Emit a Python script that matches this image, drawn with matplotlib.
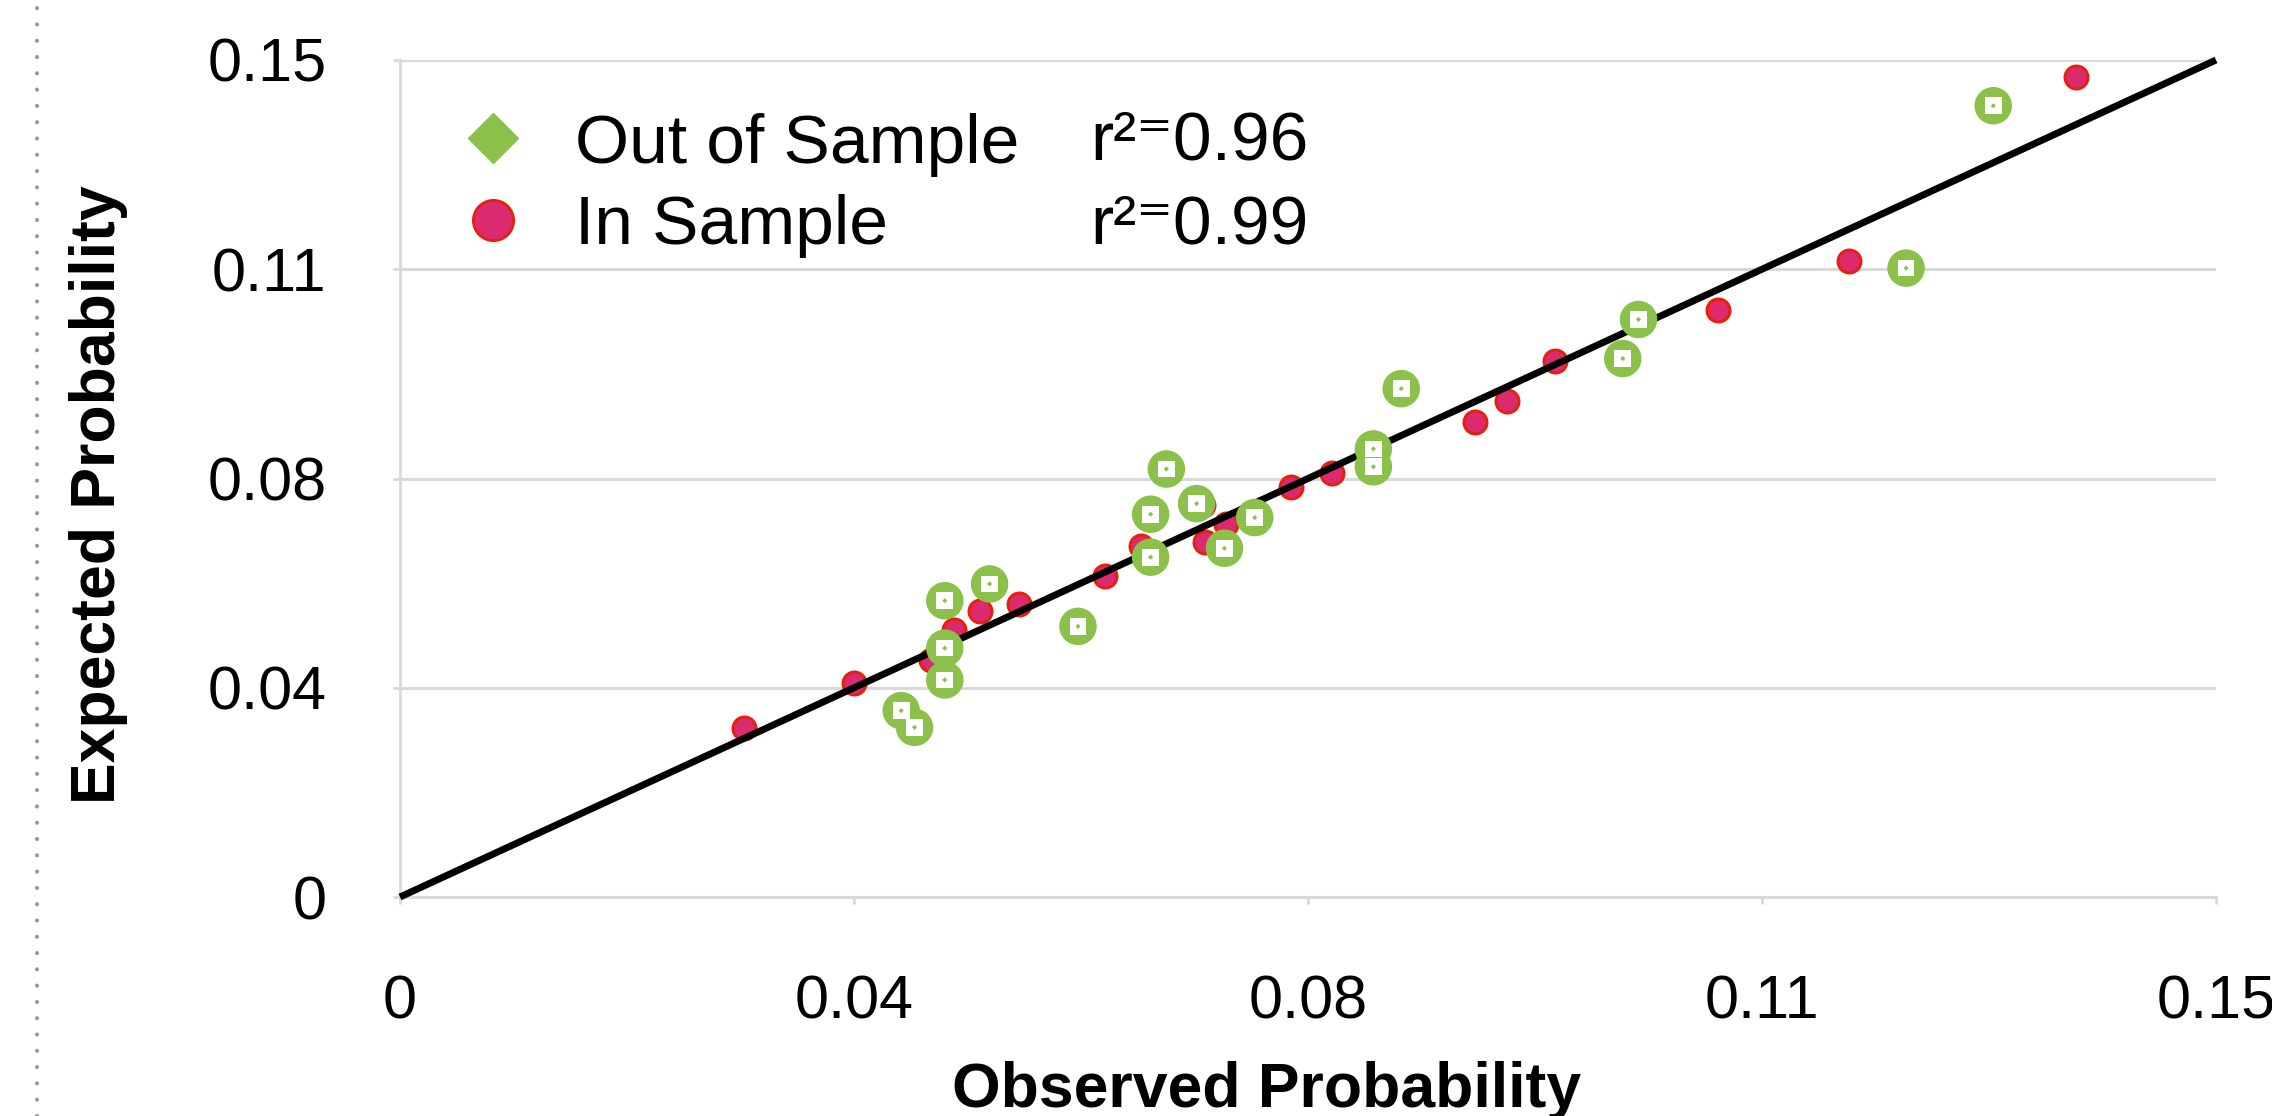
import matplotlib
matplotlib.use("Agg")
import matplotlib.pyplot as plt
from matplotlib.lines import Line2D

plt.rcParams['font.family'] = ['Liberation Sans', 'DejaVu Sans']

# ---------------- data ----------------
out_obs = [0.1316, 0.1244, 0.1023, 0.1010, 0.0827, 0.0633, 0.0620, 0.0658, 0.0706, 0.0681,
           0.0620, 0.0487, 0.0450, 0.0450, 0.0450, 0.0414, 0.0425, 0.0560, 0.0804, 0.0804]
out_exp = [0.1418, 0.1127, 0.1035, 0.0965, 0.0911, 0.0767, 0.0686, 0.0705, 0.0680, 0.0625,
           0.0609, 0.0561, 0.0531, 0.0446, 0.0389, 0.0334, 0.0304, 0.0485, 0.0803, 0.0771]

in_obs = [0.0284, 0.0375, 0.0439, 0.0458, 0.0479, 0.0511, 0.0582, 0.0612, 0.0665, 0.0663,
          0.0682, 0.0736, 0.0770, 0.0803, 0.0888, 0.0914, 0.0954, 0.1089, 0.1197, 0.1384]
in_exp = [0.0303, 0.0383, 0.0425, 0.0479, 0.0513, 0.0525, 0.0576, 0.0629, 0.0637, 0.0703,
          0.0669, 0.0734, 0.0760, 0.0807, 0.0852, 0.0889, 0.0961, 0.1052, 0.1140, 0.1470]

tick_vals = [0, 0.0375, 0.075, 0.1125, 0.15]
tick_labels = ["0", "0.04", "0.08", "0.11", "0.15"]
series_labels = ["Out of Sample", "In Sample"]
r2_labels = ["r\u00b2\u207c0.96", "r\u00b2\u207c0.99"]
x_title = "Observed Probability"
y_title = "Expected Probability"

GREEN = "#8BC04B"
PINK = "#DC2A6E"
REDEDGE = "#E5200F"
GRID = "#D9D9D9"

W, H = 2272, 1116
fig = plt.figure(figsize=(W / 100, H / 100), dpi=100)
fig.patch.set_facecolor("white")
ax = fig.add_axes([400 / W, 1 - 897 / H, (2216 - 400) / W, (897 - 60) / H])

ax.set_xlim(tick_vals[0], tick_vals[-1])
ax.set_ylim(tick_vals[0], tick_vals[-1])
ax.set_xticks(tick_vals)
ax.set_xticklabels(tick_labels)
ax.set_yticks(tick_vals)
ax.set_yticklabels(tick_labels)

ax.grid(axis="y", color=GRID, linewidth=2.2, zorder=0)
ax.set_axisbelow(True)
for s in ["top", "right"]:
    ax.spines[s].set_visible(False)
ax.spines["left"].set_color(GRID)
ax.spines["left"].set_linewidth(2.0)
ax.spines["bottom"].set_color(GRID)
ax.spines["bottom"].set_linewidth(2.2)
ax.tick_params(axis="both", colors=GRID, length=5, width=2, labelcolor="black",
               labelsize=44)
ax.tick_params(axis="x", pad=51)
ax.tick_params(axis="y", pad=48)

# in-sample points
ax.scatter(in_obs, in_exp, s=16.5 ** 2, c=PINK, edgecolors=REDEDGE, linewidths=2.2,
           zorder=3)
# diagonal reference line
ax.plot([tick_vals[0], tick_vals[-1]], [tick_vals[0], tick_vals[-1]], color="black",
        linewidth=5.0, zorder=4, clip_on=False, solid_capstyle="butt")
# out-of-sample points
ax.scatter(out_obs, out_exp, s=27 ** 2, c=GREEN, edgecolors="none", zorder=5)
ax.scatter(out_obs, out_exp, s=12 ** 2, marker="s", c="white", edgecolors="none", zorder=6)
ax.scatter(out_obs, out_exp, s=2.6 ** 2, marker="D", c=GREEN, edgecolors="none", zorder=7)

# legend
handles = [
    Line2D([], [], linestyle="none", marker="D", markersize=25.5, markerfacecolor=GREEN,
           markeredgecolor=GREEN),
    Line2D([], [], linestyle="none", marker="o", markersize=29, markerfacecolor=PINK,
           markeredgecolor=REDEDGE, markeredgewidth=2),
]
leg = ax.legend(handles, series_labels, loc="upper left", bbox_to_anchor=(0.032, 0.937),
                frameon=False, fontsize=50, borderpad=0, handlelength=1.0,
                handletextpad=0.68, labelspacing=0.25, borderaxespad=0)
leg.set_zorder(8)

for lbl, yy in zip(r2_labels, [142, 226]):
    ax.text((1090 - 400) / 1816, (897 - yy) / 837, lbl, transform=ax.transAxes,
            fontsize=50, va="center", ha="left", zorder=8)

# axis titles
fig.text(1267 / W, 1 - 1090 / H, x_title, fontsize=45, fontweight="bold",
         ha="center", va="center")
fig.text(99 / W, 1 - 495 / H, y_title, fontsize=45, fontweight="bold",
         ha="center", va="center", rotation=90)

# dotted guide on the left edge
fig.add_artist(Line2D([37 / W, 37 / W], [0, 1], transform=fig.transFigure,
                      color="#999999", linewidth=3.0, linestyle=(0, (0.01, 3.9)),
                      dash_capstyle="round"))

fig.savefig("out.png", dpi=100)
